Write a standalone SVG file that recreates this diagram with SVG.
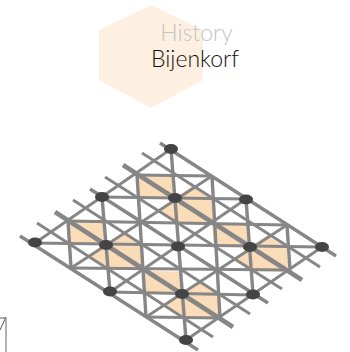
<svg xmlns="http://www.w3.org/2000/svg" width="350" height="352" viewBox="0 0 350 352">
<style>
.hex{fill:#fdf0e0}
.t{font-family:"Lato","Open Sans",sans-serif;font-weight:300;font-size:23px;text-anchor:middle}
.peach{fill:#fbdcb8}
line{stroke:#868686;fill:none}
.g{stroke-width:3}
.d{stroke-width:2.800}
.e{stroke-width:3.400}
.k{stroke-width:4.600}
.n{fill:#444}
</style>
<defs>
<polygon id="p" points="-38,-23 -1.5,-22.5 0,0 17,-11.5 37,1 38,25 2,24 -17,12 0,0 -36,0"/>
<ellipse id="dot" rx="7" ry="5"/>
</defs>
<polygon class="hex" points="151,5 203,30 203,80 151,108 99,80 99,30"/>
<text class="t" x="196.500" y="41" fill="#c4c4c4">History</text>
<text class="t" x="195" y="67" fill="#111">Bijenkorf</text>
<g id="fills">
<use href="#p" class="peach" x="175" y="198"/>
<use href="#p" class="peach" x="106" y="245"/>
<use href="#p" class="peach" x="250" y="247"/>
<use href="#p" class="peach" x="182" y="294"/>
</g>
<g id="connectors">
<line class="g" x1="137" y1="175" x2="212" y2="176"/>
<line class="g" x1="102" y1="197" x2="246" y2="199"/>
<line class="g" x1="68" y1="221" x2="287" y2="225"/>
<line class="g" x1="35" y1="243" x2="322" y2="247"/>
<line class="g" x1="71" y1="268" x2="290" y2="270"/>
<line class="g" x1="110" y1="292" x2="253" y2="295"/>
<line class="g" x1="146" y1="317" x2="220" y2="318"/>
<line class="e" x1="68" y1="221" x2="71" y2="268"/>
<line class="e" x1="102" y1="197" x2="110" y2="292"/>
<line class="e" x1="137" y1="175" x2="146" y2="317"/>
<line class="e" x1="171" y1="149" x2="186" y2="340"/>
<line class="e" x1="212" y1="176" x2="220" y2="318"/>
<line class="e" x1="246" y1="199" x2="253" y2="294"/>
<line class="e" x1="287" y1="225" x2="290" y2="270"/>
<line class="d" x1="35" y1="243" x2="171" y2="149"/>
<line class="d" x1="71" y1="268" x2="212" y2="176"/>
<line class="d" x1="110" y1="292" x2="246" y2="199"/>
<line class="d" x1="146" y1="317" x2="287" y2="225"/>
<line class="d" x1="186" y1="340" x2="322" y2="247"/>
<line class="e" x1="160" y1="143" x2="336" y2="256"/>
<line class="d" x1="142" y1="153" x2="320" y2="267"/>
<line class="k" x1="123" y1="165" x2="302" y2="280"/>
<line class="d" x1="105" y1="177" x2="282" y2="289"/>
<line class="e" x1="90" y1="189" x2="268" y2="303"/>
<line class="d" x1="73" y1="200" x2="250" y2="314"/>
<line class="k" x1="55" y1="212" x2="233" y2="327"/>
<line class="d" x1="37" y1="223" x2="213" y2="337"/>
<line class="e" x1="20" y1="236" x2="198" y2="350"/>
</g>
<g id="n1"><use href="#dot" class="n" x="171" y="149"/></g>
<g id="n2"><use href="#dot" class="n" x="102" y="197"/></g>
<g id="n3"><use href="#dot" class="n" x="175" y="198"/></g>
<g id="n4"><use href="#dot" class="n" x="246" y="199.500"/></g>
<g id="n5"><use href="#dot" class="n" x="35" y="242.500"/></g>
<g id="n6"><use href="#dot" class="n" x="106" y="245"/></g>
<g id="n7"><use href="#dot" class="n" x="178" y="246.500"/></g>
<g id="n8"><use href="#dot" class="n" x="250" y="247"/></g>
<g id="n9"><use href="#dot" class="n" x="322" y="247"/></g>
<g id="n10"><use href="#dot" class="n" x="110" y="291.500"/></g>
<g id="n11"><use href="#dot" class="n" x="182" y="294"/></g>
<g id="n12"><use href="#dot" class="n" x="253" y="294.500"/></g>
<g id="n13"><use href="#dot" class="n" x="186" y="340"/></g>
<g id="corner">
<path d="M0,318H6M6,317L0,330" stroke="#555" stroke-width="1" fill="none"/>
<path d="M6,318V352" stroke="#999" stroke-width="1.500" fill="none"/>
</g>
</svg>
